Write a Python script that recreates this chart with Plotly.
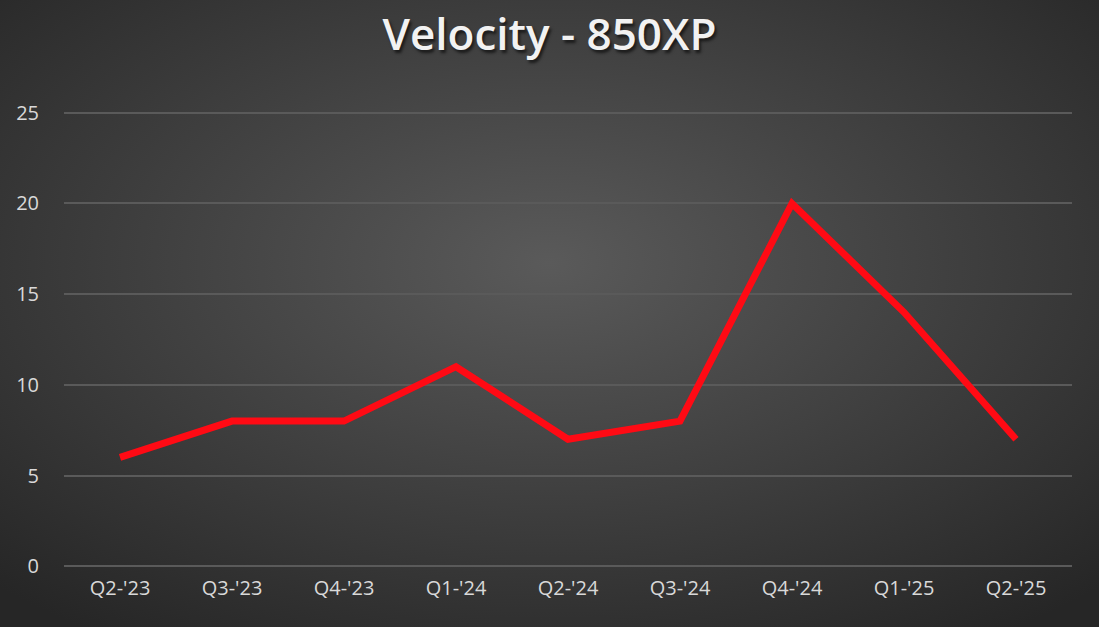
import base64
import plotly.graph_objects as go

quarters = ["Q2-'23", "Q3-'23", "Q4-'23", "Q1-'24", "Q2-'24", "Q3-'24", "Q4-'24", "Q1-'25", "Q2-'25"]
velocity = [6, 8, 8, 11, 7, 8, 20, 14, 7]
y_ticks = [0, 5, 10, 15, 20, 25]

# radial gray background like the Excel chart style
bg_svg = """<svg xmlns='http://www.w3.org/2000/svg' width='1099' height='627'>
<defs><radialGradient id='g' cx='50%' cy='42%' r='72%'>
<stop offset='0%' stop-color='#5a5a5a'/><stop offset='100%' stop-color='#262626'/>
</radialGradient></defs><rect width='1099' height='627' fill='url(#g)'/></svg>"""
bg_uri = "data:image/svg+xml;base64," + base64.b64encode(bg_svg.encode()).decode()

W, H = 1099, 627
# 0 sits at y=566 and 25 at y=113; range padded a bit so edge gridlines show
ml, mr, mt, mb = 64, 27, 111, 59
pw, ph = W - ml - mr, H - mt - mb

fig = go.Figure()
fig.add_trace(go.Scatter(
    x=quarters,
    y=velocity,
    mode='lines',
    line=dict(color='#ff0a14', width=7),
    hoverinfo='x+y',
))

fig.update_layout(
    width=W,
    height=H,
    margin=dict(l=ml, r=mr, t=mt, b=mb),
    paper_bgcolor='#3a3a3a',
    plot_bgcolor='rgba(0,0,0,0)',
    showlegend=False,
    title=dict(
        text='Velocity - 850XP',
        x=0.5,
        xanchor='center',
        y=1 - 35 / H,
        yanchor='middle',
        font=dict(family='Open Sans', size=44, weight=600, color='#f2f2f2',
                  shadow='2px 3px 3px rgba(0,0,0,0.6)'),
    ),
    images=[dict(
        source=bg_uri,
        xref='paper', yref='paper',
        x=-ml / pw, y=1 + mt / ph,
        sizex=W / pw, sizey=H / ph,
        xanchor='left', yanchor='top',
        sizing='stretch',
        layer='below',
    )],
    xaxis=dict(
        showgrid=False,
        zeroline=False,
        showline=False,
        ticks='',
        ticklabelstandoff=6,
        tickfont=dict(family='Open Sans', size=20, color='#d9d9d9'),
        range=[-0.5, len(quarters) - 0.5],
    ),
    yaxis=dict(
        range=[-0.1, 25.1],
        tickvals=y_ticks,
        showgrid=True,
        gridcolor='#5a5a5a',
        gridwidth=1.5,
        zeroline=False,
        showline=False,
        ticks='',
        ticklabelstandoff=24,
        tickfont=dict(family='Open Sans', size=20, color='#d9d9d9'),
    ),
)

fig.write_html("out.html", config={'displayModeBar': False},
               post_script="document.body.style.margin='0';")
